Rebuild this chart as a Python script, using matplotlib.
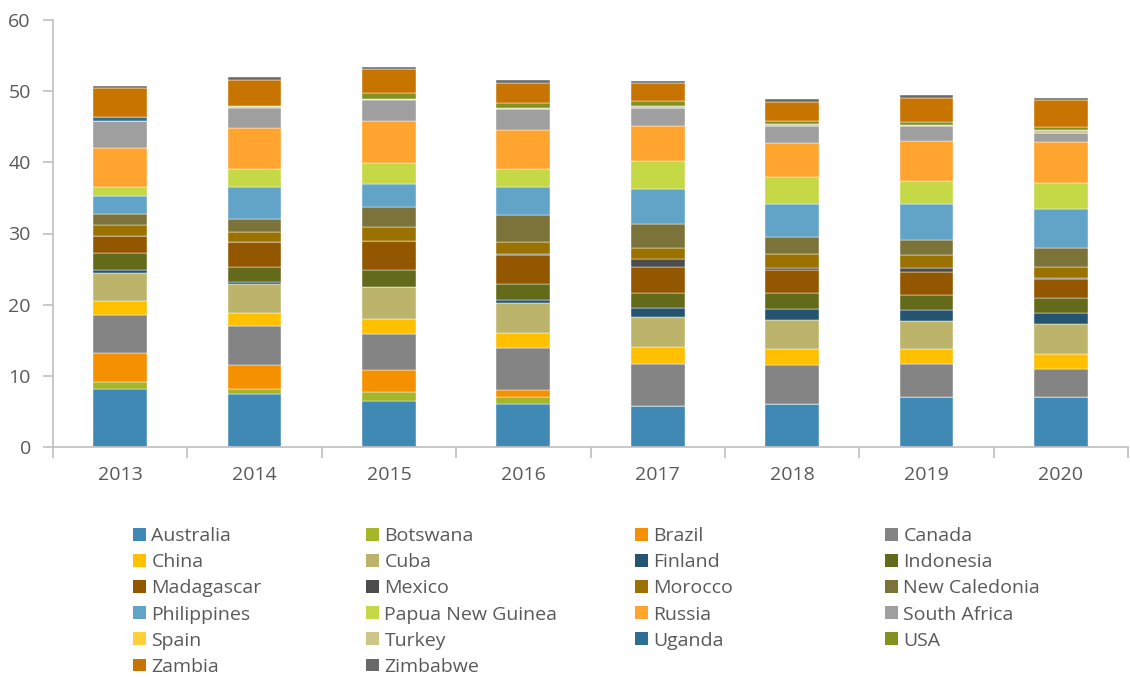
import matplotlib.pyplot as plt
from matplotlib.patches import Patch
from matplotlib.ticker import FixedLocator
import numpy as np

plt.rcParams['font.family'] = ['Open Sans', 'DejaVu Sans']

years = ['2013', '2014', '2015', '2016', '2017', '2018', '2019', '2020']

australia = [8.1, 7.5, 6.5, 6.0, 5.8, 6.1, 7.0, 7.0]
botswana = [1.0, 0.7, 1.2, 1.05, 0, 0, 0, 0]
brazil = [4.1, 3.3, 3.1, 1.0, 0, 0, 0, 0]
canada = [5.4, 5.5, 5.1, 5.9, 5.9, 5.45, 4.6, 3.9]
china = [1.9, 1.85, 2.1, 2.05, 2.3, 2.25, 2.2, 2.2]
cuba = [4.0, 4.0, 4.5, 4.2, 4.3, 4.1, 3.9, 4.2]
finland = [0.4, 0.3, 0, 0.45, 1.2, 1.5, 1.5, 1.5]
indonesia = [2.3, 2.2, 2.35, 2.3, 2.2, 2.2, 2.1, 2.1]
madagascar = [2.5, 3.4, 4.05, 4.0, 3.6, 3.3, 3.3, 2.7]
mexico = [0, 0, 0, 0.15, 1.1, 0.3, 0.5, 0.2]
morocco = [1.5, 1.5, 1.95, 1.65, 1.55, 1.9, 1.9, 1.5]
new_caledonia = [1.6, 1.8, 2.85, 3.9, 3.45, 2.4, 2.05, 2.7]
philippines = [2.5, 4.5, 3.3, 3.95, 4.9, 4.7, 5.05, 5.4]
png = [1.2, 2.45, 2.9, 2.5, 3.9, 3.75, 3.3, 3.75]
russia = [5.5, 5.8, 5.85, 5.5, 4.85, 4.75, 5.6, 5.7]
south_africa = [3.8, 2.8, 2.95, 2.85, 2.65, 2.35, 2.1, 1.3]
spain = [0, 0.3, 0.2, 0, 0, 0, 0, 0]
turkey = [0, 0, 0, 0.25, 0.25, 0.35, 0.15, 0.35]
uganda = [0.6, 0, 0, 0, 0, 0, 0, 0]
usa = [0, 0, 0.8, 0.65, 0.6, 0.35, 0.4, 0.45]
zambia = [4.1, 3.7, 3.35, 2.85, 2.55, 2.75, 3.45, 3.75]
zimbabwe = [0.2, 0.4, 0.33, 0.3, 0.33, 0.37, 0.33, 0.37]

series = [
    ('Australia', australia, '#4189B5'),
    ('Botswana', botswana, '#A5B728'),
    ('Brazil', brazil, '#F59100'),
    ('Canada', canada, '#848484'),
    ('China', china, '#FFC000'),
    ('Cuba', cuba, '#BDB46C'),
    ('Finland', finland, '#255470'),
    ('Indonesia', indonesia, '#636B1A'),
    ('Madagascar', madagascar, '#935700'),
    ('Mexico', mexico, '#4D4D4D'),
    ('Morocco', morocco, '#9B7200'),
    ('New Caledonia', new_caledonia, '#7C733A'),
    ('Philippines', philippines, '#62A3C8'),
    ('Papua New Guinea', png, '#C5D946'),
    ('Russia', russia, '#FFA42F'),
    ('South Africa', south_africa, '#9F9F9F'),
    ('Spain', spain, '#FFD03A'),
    ('Turkey', turkey, '#CCC68B'),
    ('Uganda', uganda, '#2E6E92'),
    ('USA', usa, '#839120'),
    ('Zambia', zambia, '#C87400'),
    ('Zimbabwe', zimbabwe, '#696969'),
]

fig = plt.figure(figsize=(11.3, 6.77), dpi=100)
ax = fig.add_axes([53 / 1130, 1 - 447 / 677, 1075 / 1130, 427 / 677])

x = np.arange(len(years))
bottom = np.zeros(len(years))
for name, vals, col in series:
    vals = np.array(vals, dtype=float)
    ax.bar(x, vals, 0.4, bottom=bottom, color=col, edgecolor='white', linewidth=0.3)
    bottom += vals

grey = '#BFBFBF'
txt = '#595959'
ax.set_xlim(-0.5, len(years) - 0.5)
ax.set_ylim(0, 60)
ax.set_yticks(range(0, 61, 10))
ax.set_xticks(x)
ax.set_xticklabels(years)
ax.xaxis.set_minor_locator(FixedLocator(np.arange(-0.5, len(years), 1.0)))
ax.tick_params(axis='x', which='major', length=0, pad=14, labelsize=14, colors=txt)
ax.tick_params(axis='x', which='minor', length=8, width=1.2, color=grey)
ax.tick_params(axis='y', length=7, width=1.2, color=grey, pad=9, labelsize=14, labelcolor=txt)
for s in ['top', 'right']:
    ax.spines[s].set_visible(False)
for s in ['left', 'bottom']:
    ax.spines[s].set_color(grey)
    ax.spines[s].set_linewidth(1.2)

# legend: 4 columns placed like the original
col_x = [133, 366, 635, 885]
for c in range(4):
    handles = [Patch(facecolor=col, label=name) for name, vals, col in series[c::4]]
    fig.legend(handles=handles, loc='upper left', bbox_to_anchor=(col_x[c] / 1130, 1 - 527 / 677),
               frameon=False, fontsize=14, labelcolor=txt, handlelength=0.65, handleheight=0.65,
               handletextpad=0.3, labelspacing=0.42, borderpad=0, borderaxespad=0)

fig.savefig('out.png', dpi=100)
